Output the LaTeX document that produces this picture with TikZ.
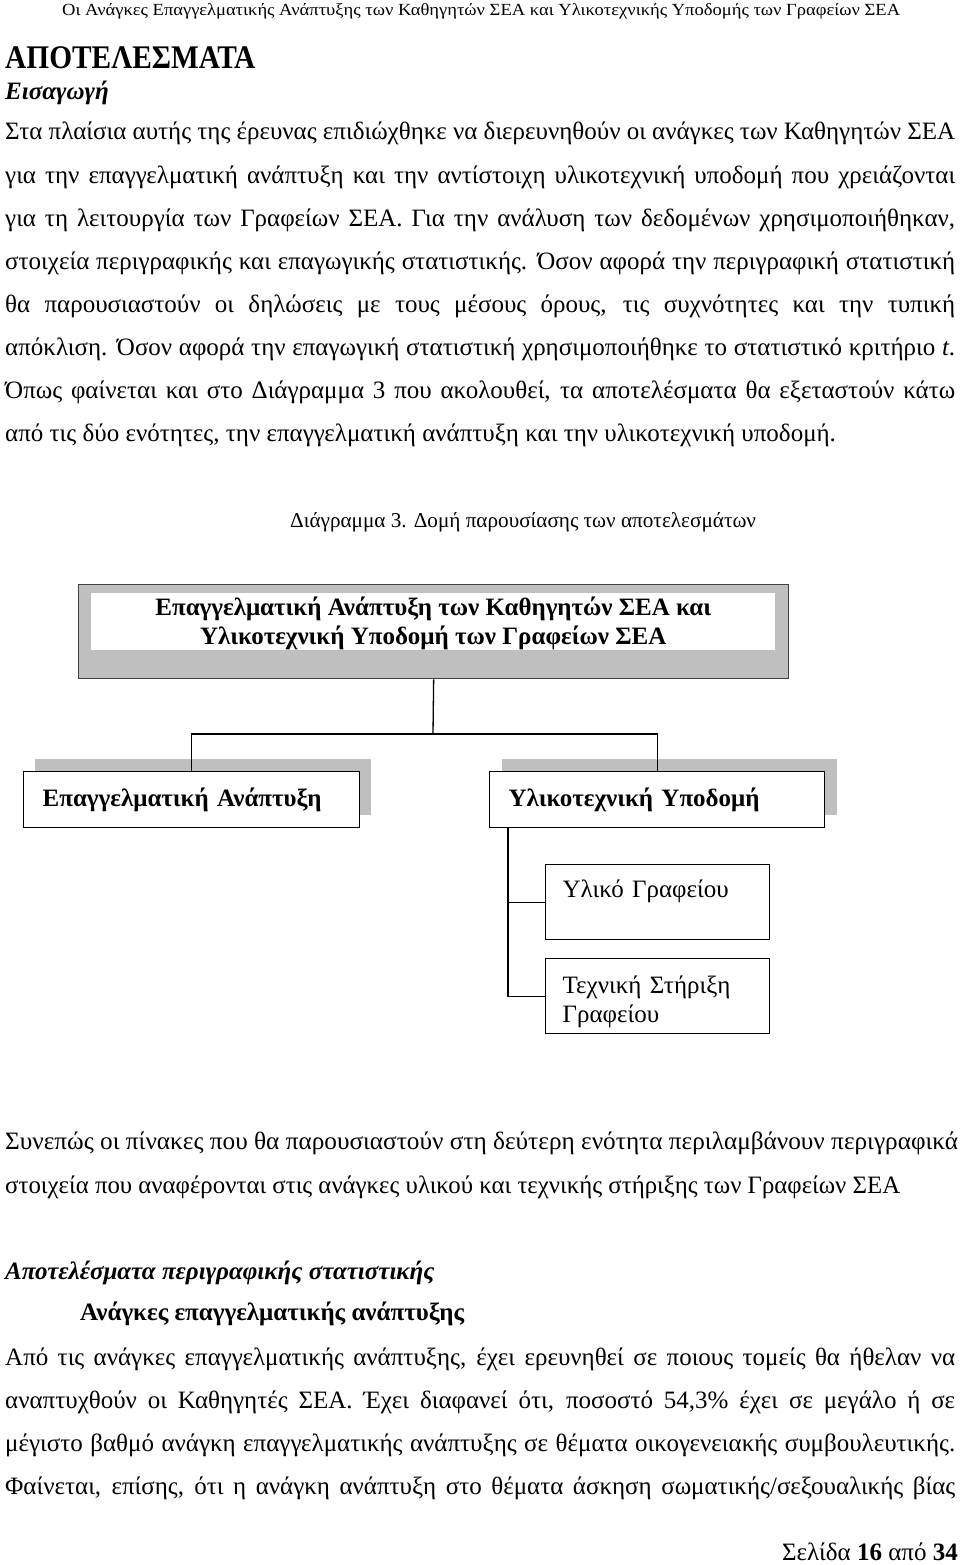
\documentclass[tikz,border=0pt]{standalone}
\usepackage{fontspec}
\setmainfont{Liberation Serif}
\usepackage{graphicx}
\usetikzlibrary{positioning}

\begin{document}
\begin{tikzpicture}[x=1pt,y=-1pt,
txt/.style={inner sep=0pt,anchor=base west,font=\fontsize{25}{43}\selectfont},
boxtxt/.style={font=\fontsize{25}{29}\selectfont\bfseries},
greybox/.style={fill=gray!50,draw=none,inner sep=0pt,anchor=north west},
plainbox/.style={draw,line width=1.3pt,fill=white,anchor=north west,align=left,inner ysep=0pt},
link/.style={line width=1.3pt}]
\useasboundingbox (0,0) rectangle (960,1565);

%% page head
\node[txt,font=\fontsize{17}{20}\selectfont](head)at(62,16)
{\resizebox{838pt}{\height}{Οι Ανάγκες Επαγγελματικής Ανάπτυξης των Καθηγητών ΣΕΑ και Υλικοτεχνικής Υποδομής των Γραφείων ΣΕΑ}};
\node[txt,font=\fontsize{33}{40}\selectfont\bfseries](title)at(5,69)
{\resizebox{250pt}{\height}{ΑΠΟΤΕΛΕΣΜΑΤΑ}};
\node[txt,font=\fontsize{25}{43}\selectfont\bfseries\itshape](intro)at(5,100){Εισαγωγή};

%% first paragraph
\node[txt](P1)at(5,140){\makebox[950pt][s]{Στα πλαίσια αυτής της έρευνας επιδιώχθηκε να διερευνηθούν οι ανάγκες των Καθηγητών ΣΕΑ}};
\node[txt](P2)at(5,183){\makebox[950pt][s]{για την επαγγελματική ανάπτυξη και την αντίστοιχη υλικοτεχνική υποδομή που χρειάζονται}};
\node[txt](P3)at(5,226){\makebox[950pt][s]{για τη λειτουργία των Γραφείων ΣΕΑ. Για την ανάλυση των δεδομένων χρησιμοποιήθηκαν,}};
\node[txt](P4)at(5,269){\makebox[950pt][s]{στοιχεία περιγραφικής και επαγωγικής στατιστικής. Όσον αφορά την περιγραφική στατιστική}};
\node[txt](P5)at(5,312){\makebox[950pt][s]{θα παρουσιαστούν οι δηλώσεις με τους μέσους όρους, τις συχνότητες και την τυπική}};
\node[txt](P6)at(5,355){\makebox[950pt][s]{απόκλιση. Όσον αφορά την επαγωγική στατιστική χρησιμοποιήθηκε το στατιστικό κριτήριο \textit{t}.}};
\node[txt](P7)at(5,398){\makebox[950pt][s]{Όπως φαίνεται και στο Διάγραμμα 3 που ακολουθεί, τα αποτελέσματα θα εξεταστούν κάτω}};
\node[txt](P8)at(5,441){από τις δύο ενότητες, την επαγγελματική ανάπτυξη και την υλικοτεχνική υποδομή.};

\node[txt,font=\fontsize{21.2}{25}\selectfont](cap)at(290,527){Διάγραμμα 3. Δομή παρουσίασης των αποτελεσμάτων};

%% diagram
\node[draw=black!75,line width=1.3pt,fill=gray!50,inner sep=0pt,anchor=north west,
minimum width=710,minimum height=94](frame)at(78,584){};
\node[fill=white,anchor=north west,align=center,inner ysep=0pt,boxtxt,
minimum width=684,minimum height=57](top)at(91,593)
{\rule{0pt}{22pt}Επαγγελματική Ανάπτυξη των Καθηγητών ΣΕΑ και\\Υλικοτεχνική Υποδομή των Γραφείων ΣΕΑ};

\node[greybox,minimum width=336,minimum height=56](EAs)at(35,759){};
\node[greybox,minimum width=335,minimum height=56](YTs)at(502,759){};

\coordinate(split)at(433,734);
\draw[link](frame.south)--(split);

\node[plainbox,boxtxt,minimum height=56,text width=298,inner xsep=19](EA)at(23,771)
{Επαγγελματική Ανάπτυξη};
\node[plainbox,boxtxt,minimum height=56,text width=297,inner xsep=19](YT)at(489,771)
{Υλικοτεχνική Υποδομή};
\draw[link](split)-|(EA.north);
\draw[link](split)-|(YT.north);

\node[plainbox,font=\fontsize{25}{29}\selectfont,minimum height=75,text width=190,inner xsep=17](YG)at(545,864)
{\rule{0pt}{28pt}Υλικό Γραφείου\\ \strut};
\node[plainbox,font=\fontsize{25}{29}\selectfont,minimum height=75,text width=190,inner xsep=17](TS)at(545,958)
{\rule{0pt}{28pt}Τεχνική Στήριξη\\Γραφείου};
\coordinate(stem)at([xshift=19pt]YT.south west);
\draw[link](stem)|-(YG.west);
\draw[link](stem)|-(TS.west);

%% after the diagram
\node[txt](C1)at(5,1149){\resizebox{953pt}{\height}{Συνεπώς οι πίνακες που θα παρουσιαστούν στη δεύτερη ενότητα περιλαμβάνουν περιγραφικά}};
\node[txt](C2)at(5,1193){\resizebox{895pt}{\height}{στοιχεία που αναφέρονται στις ανάγκες υλικού και τεχνικής στήριξης των Γραφείων ΣΕΑ}};

\node[txt,font=\fontsize{25}{43}\selectfont\bfseries\itshape](sub1)at(5,1279){Αποτελέσματα περιγραφικής στατιστικής};
\node[txt,font=\fontsize{25}{43}\selectfont\bfseries](sub2)at(80,1320){Ανάγκες επαγγελματικής ανάπτυξης};

\node[txt](Q1)at(5,1365){\makebox[950pt][s]{Από τις ανάγκες επαγγελματικής ανάπτυξης, έχει ερευνηθεί σε ποιους τομείς θα ήθελαν να}};
\node[txt](Q2)at(5,1408){\makebox[950pt][s]{αναπτυχθούν οι Καθηγητές ΣΕΑ. Έχει διαφανεί ότι, ποσοστό 54,3\% έχει σε μεγάλο ή σε}};
\node[txt](Q3)at(5,1451){\makebox[950pt][s]{μέγιστο βαθμό ανάγκη επαγγελματικής ανάπτυξης σε θέματα οικογενειακής συμβουλευτικής.}};
\node[txt](Q4)at(5,1494){\makebox[950pt][s]{Φαίνεται, επίσης, ότι η ανάγκη ανάπτυξη στο θέματα άσκηση σωματικής/σεξουαλικής βίας}};

\node[txt,anchor=base east](page)at(958,1560){Σελίδα \textbf{16} από \textbf{34}};
\end{tikzpicture}
\end{document}
